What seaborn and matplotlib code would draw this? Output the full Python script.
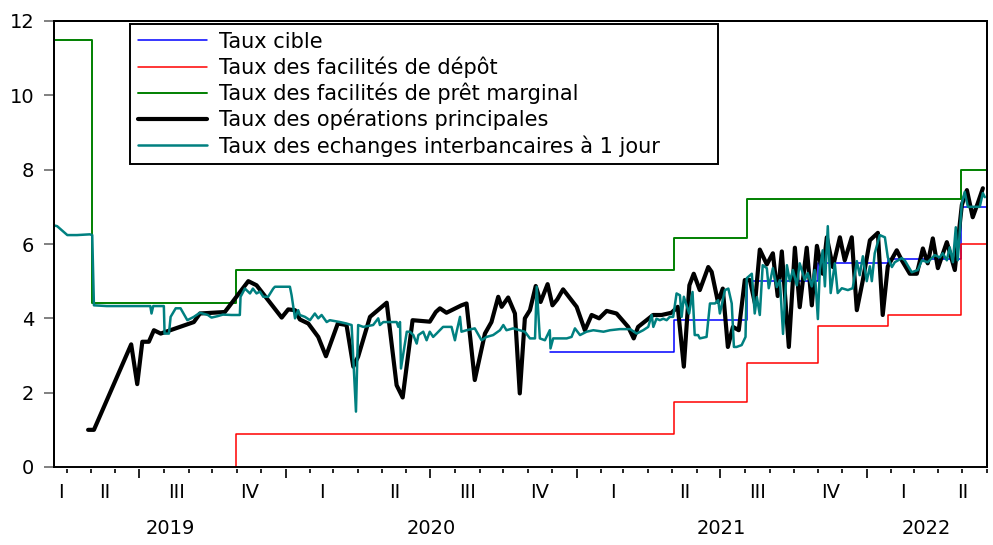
import numpy as np
import pandas as pd
import matplotlib
matplotlib.use("Agg")
import matplotlib.pyplot as plt
import matplotlib.dates as mdates
from matplotlib.lines import Line2D
from matplotlib.patches import Rectangle
from matplotlib.ticker import FixedLocator, NullFormatter
import seaborn as sns

# ---------------- data (time in months elapsed since 1 Jan 2019) ----------------
series_labels = [
    "Taux cible",
    "Taux des facilités de dépôt",
    "Taux des facilités de prêt marginal",
    "Taux des opérations principales",
    "Taux des echanges interbancaires à 1 jour",
]

t_cible = [22.91, 28.04, 31.05, 33.99, 36.88, 39.90, 40.97]
v_cible = [3.10, 3.95, 5.00, 5.50, 5.60, 7.00, 7.00]

t_depot = [9.94, 9.96, 28.04, 31.05, 33.99, 36.88, 39.90, 40.97]
v_depot = [0.00, 0.90, 1.75, 2.80, 3.80, 4.10, 6.00, 6.00]

t_pret = [2.42, 3.99, 9.94, 28.04, 31.05, 39.90, 40.97]
v_pret = [11.50, 4.40, 5.30, 6.15, 7.20, 8.00, 8.00]

t_ops = [3.83, 4.07, 5.61, 5.86, 6.07, 6.34, 6.55, 6.83, 8.20, 8.45,
         9.48, 10.45, 10.79, 11.83, 12.10, 12.38, 12.58, 12.93, 13.34, 13.66,
         14.15, 14.51, 14.79, 14.99, 15.48, 16.17, 16.58, 16.83, 17.24, 17.95,
         18.20, 18.37, 18.64, 19.26, 19.47, 19.81, 20.23, 20.50, 20.78, 20.92,
         21.19, 21.47, 21.67, 21.88, 22.09, 22.33, 22.53, 22.82, 23.02, 23.22,
         23.46, 24.02, 24.36, 24.64, 24.95, 25.26, 25.67, 26.15, 26.38, 26.56,
         26.91, 27.18, 27.53, 27.94, 28.20, 28.45, 28.68, 28.86, 29.11, 29.46,
         29.60, 29.86, 30.06, 30.27, 30.48, 30.72, 30.97, 31.18, 31.39, 31.59,
         31.88, 32.13, 32.33, 32.50, 32.79, 33.04, 33.24, 33.53, 33.74, 33.95,
         34.19, 34.36, 34.61, 34.90, 35.10, 35.39, 35.60, 35.85, 36.14, 36.47,
         36.67, 36.88, 37.25, 37.46, 37.79, 38.08, 38.33, 38.53, 38.74, 38.95,
         39.32, 39.65, 39.94, 40.15, 40.39, 40.60, 40.81]
v_ops = [1.00, 1.00, 3.30, 2.23, 3.37, 3.37, 3.68, 3.59, 3.90, 4.13,
         4.17, 5.00, 4.89, 4.02, 4.24, 4.22, 3.97, 3.86, 3.50, 2.98,
         3.86, 3.82, 2.70, 2.97, 4.04, 4.42, 2.20, 1.87, 3.95, 3.91,
         4.17, 4.27, 4.15, 4.35, 4.40, 2.34, 3.59, 3.90, 4.58, 4.31,
         4.56, 4.13, 1.98, 4.00, 4.22, 4.87, 4.44, 4.92, 4.35, 4.51,
         4.78, 4.31, 3.68, 4.09, 4.00, 4.20, 4.13, 3.77, 3.46, 3.77,
         3.95, 4.09, 4.09, 4.15, 4.31, 2.70, 4.89, 5.20, 4.76, 5.38,
         5.25, 4.44, 4.80, 3.23, 3.77, 3.68, 5.03, 5.03, 4.40, 5.85,
         5.45, 5.75, 4.60, 5.80, 3.23, 5.90, 4.30, 5.90, 4.35, 5.95,
         5.20, 6.18, 5.38, 6.18, 5.56, 6.18, 4.22, 5.03, 6.10, 6.30,
         4.09, 5.40, 5.83, 5.56, 5.20, 5.20, 5.88, 5.48, 6.15, 5.35,
         6.05, 5.30, 7.05, 7.45, 6.72, 7.10, 7.50]

t_inter = [2.42, 2.55, 2.97, 3.37, 3.90, 4.00, 4.07, 4.60, 6.40, 6.45,
           6.52, 6.96, 6.99, 7.17, 7.24, 7.45, 7.65, 7.93, 8.20, 8.45,
           8.78, 8.93, 9.19, 9.40, 9.76, 10.10, 10.13, 10.31, 10.52, 10.64,
           10.79, 10.93, 11.07, 11.27, 11.48, 11.55, 12.17, 12.24, 12.38, 12.51,
           12.58, 12.79, 13.00, 13.20, 13.34, 13.48, 13.69, 13.82, 14.24, 14.51,
           14.72, 14.90, 14.99, 15.20, 15.61, 15.82, 15.89, 16.03, 16.30, 16.58,
           16.65, 16.72, 16.76, 17.00, 17.13, 17.27, 17.41, 17.48, 17.68, 17.82,
           17.95, 18.09, 18.23, 18.50, 18.85, 18.99, 19.06, 19.20, 19.26, 19.47,
           19.81, 20.09, 20.30, 20.57, 20.85, 20.99, 21.12, 21.40, 21.67, 21.88,
           22.09, 22.30, 22.37, 22.50, 22.71, 22.91, 22.94, 23.05, 23.33, 23.61,
           23.81, 23.95, 24.16, 24.43, 24.71, 25.13, 25.40, 25.81, 26.23, 26.50,
           26.77, 26.98, 27.12, 27.19, 27.32, 27.46, 27.60, 27.74, 27.87, 28.01,
           28.15, 28.29, 28.36, 28.45, 28.67, 28.81, 28.90, 29.04, 29.11, 29.39,
           29.53, 29.74, 29.87, 29.94, 30.15, 30.29, 30.43, 30.52, 30.63, 30.84,
           31.00, 31.05, 31.26, 31.38, 31.47, 31.59, 31.71, 31.88, 31.96, 32.13,
           32.29, 32.42, 32.55, 32.71, 32.83, 32.96, 33.12, 33.24, 33.45, 33.57,
           33.74, 33.86, 33.99, 34.07, 34.19, 34.28, 34.40, 34.52, 34.69, 34.81,
           34.98, 35.23, 35.43, 35.60, 35.72, 35.85, 36.01, 36.14, 36.22, 36.34,
           36.55, 36.76, 36.88, 37.05, 37.17, 37.46, 37.58, 37.87, 38.12, 38.29,
           38.53, 38.82, 39.03, 39.15, 39.32, 39.44, 39.57, 39.69, 39.77, 39.94,
           40.06, 40.19, 40.39, 40.68, 40.81, 40.89]
v_inter = [6.50, 6.48, 6.24, 6.24, 6.26, 6.24, 4.35, 4.33, 4.33, 4.13,
           4.33, 4.33, 3.59, 3.59, 4.04, 4.27, 4.27, 3.95, 4.04, 4.15,
           4.09, 4.02, 4.06, 4.10, 4.09, 4.09, 4.58, 4.80, 4.67, 4.80,
           4.67, 4.72, 4.58, 4.58, 4.80, 4.85, 4.85, 4.62, 4.00, 4.22,
           4.09, 4.04, 3.95, 4.13, 4.00, 4.09, 3.90, 3.95, 3.90, 3.86,
           3.82, 1.49, 3.82, 3.77, 3.82, 4.00, 3.82, 3.90, 3.90, 3.90,
           3.77, 3.90, 2.65, 3.64, 3.64, 3.55, 3.32, 3.55, 3.64, 3.41,
           3.64, 3.50, 3.59, 3.77, 3.77, 3.41, 3.64, 4.04, 3.64, 3.68,
           3.73, 3.41, 3.50, 3.55, 3.68, 3.82, 3.68, 3.73, 3.68, 3.64,
           3.46, 3.46, 4.85, 3.46, 3.41, 3.68, 3.19, 3.46, 3.46, 3.46,
           3.50, 3.73, 3.55, 3.64, 3.68, 3.64, 3.68, 3.71, 3.71, 3.59,
           3.68, 3.77, 4.09, 3.77, 3.99, 3.95, 3.99, 3.95, 4.04, 4.04,
           4.67, 4.62, 4.04, 4.58, 4.13, 4.71, 3.55, 3.55, 3.46, 3.50,
           4.40, 4.40, 4.49, 4.13, 4.76, 4.80, 4.40, 3.23, 3.23, 3.28,
           3.50, 5.08, 5.20, 4.13, 4.57, 4.09, 5.43, 5.35, 4.81, 5.35,
           4.84, 5.03, 3.58, 5.43, 5.00, 5.30, 4.89, 5.48, 5.03, 5.22,
           4.86, 5.30, 3.98, 5.30, 5.83, 4.86, 6.48, 4.68, 5.48, 4.68,
           4.81, 4.76, 4.81, 5.54, 5.16, 5.67, 5.00, 5.40, 5.00, 5.75,
           6.24, 6.18, 5.64, 5.38, 5.51, 5.62, 5.56, 5.24, 5.30, 5.56,
           5.51, 5.70, 5.64, 5.75, 5.56, 5.91, 5.51, 6.45, 5.56, 7.10,
           7.40, 7.00, 7.00, 7.00, 7.37, 7.26]

quarter_labels = ["I", "II", "III", "IV"]
year_labels = ["2019", "2020", "2021", "2022"]

# ---------------- helpers ----------------
BASE = pd.Timestamp("2019-01-01")


def to_date(m):
    return BASE + pd.to_timedelta(np.asarray(m, dtype=float) * 30.4375, unit="D")


x_start, x_end = 2.42, 40.98

sns.set_theme(style="white")
plt.rcParams["font.family"] = ["DejaVu Sans"]
plt.rcParams["text.color"] = "black"
FS = 14
LFS = 15

fig = plt.figure(figsize=(9.93, 5.45), dpi=100)
ax = fig.add_axes([54 / 993, 78 / 545, 933 / 993, 446 / 545])

colors = ["#0000ff", "#ff0000", "#008000", "#000000", "#008080"]
widths = [1.1, 1.1, 1.4, 3.0, 1.8]
datasets = [
    (t_cible, v_cible, "steps-post"),
    (t_depot, v_depot, "steps-post"),
    (t_pret, v_pret, "steps-post"),
    (t_ops, v_ops, "default"),
    (t_inter, v_inter, "default"),
]
for (t, v, ds), c, w in zip(datasets, colors, widths):
    df = pd.DataFrame({"date": to_date(t), "value": v})
    sns.lineplot(data=df, x="date", y="value", ax=ax, color=c, lw=w,
                 drawstyle=ds, estimator=None, sort=False, legend=False)

ax.set_xlim(to_date(x_start), to_date(x_end))
ax.set_ylim(0, 12)
ax.set_xlabel("")
ax.set_ylabel("")

# y axis
ax.set_yticks(range(0, 13, 2))
ax.tick_params(axis="y", which="major", left=True, length=7.2, width=1.4,
               color="#808080", pad=7, labelsize=FS, labelcolor="black",
               direction="out")

# x axis ticks: monthly minor, half-yearly major
month_starts = pd.date_range("2019-04-01", "2022-06-01", freq="MS")
major = [d for d in month_starts if d.month in (1, 7)]
minor = [d for d in month_starts if d.month not in (1, 7)]
ax.xaxis.set_major_locator(FixedLocator(mdates.date2num(major)))
ax.xaxis.set_minor_locator(FixedLocator(mdates.date2num(minor)))
ax.xaxis.set_major_formatter(NullFormatter())
ax.xaxis.set_minor_formatter(NullFormatter())
ax.tick_params(axis="x", which="major", bottom=True, length=6.5, width=1.2,
               color="black", direction="out")
ax.tick_params(axis="x", which="minor", bottom=True, length=2.9, width=1.2,
               color="black", direction="out")

for s in ["top", "right", "left"]:
    ax.spines[s].set_color("black")
    ax.spines[s].set_linewidth(1.4)
ax.spines["bottom"].set_position(("outward", 1.5))
ax.spines["bottom"].set_visible(False)
ax.add_patch(Rectangle((0, 0), 1, 1, transform=ax.transAxes, fill=False,
                       edgecolor="black", lw=1.4, clip_on=False, zorder=5))

# quarter labels (centred on visible part of each quarter)
lo, hi = x_start, x_end
for q in range(0, 14):
    q0, q1 = q * 3, q * 3 + 3
    a, b = max(q0, lo), min(q1, hi)
    if b <= a:
        continue
    ax.annotate(quarter_labels[q % 4], xy=(mdates.date2num(to_date((a + b) / 2)), 0),
                xycoords=("data", "axes fraction"), xytext=(0, -18),
                textcoords="offset points", ha="center", va="center",
                fontsize=FS, color="black")
for i, yl in enumerate(year_labels):
    a, b = max(i * 12, lo), min(i * 12 + 12, hi)
    ax.annotate(yl, xy=(mdates.date2num(to_date((a + b) / 2)), 0),
                xycoords=("data", "axes fraction"), xytext=(0, -44),
                textcoords="offset points", ha="center", va="center",
                fontsize=FS, color="black")

# legend
handles = [Line2D([], [], color=c, lw=w) for c, w in zip(colors, widths)]
leg = ax.legend(handles, series_labels, loc="upper left",
                bbox_to_anchor=(130 / 993, (545 - 165) / 545, 588 / 993, 141 / 545),
                bbox_transform=fig.transFigure, mode="expand", borderaxespad=0,
                fontsize=LFS, handlelength=3.35, handletextpad=0.55,
                labelspacing=0.23, borderpad=0.36, fancybox=False,
                framealpha=1, edgecolor="black")
leg.get_frame().set_linewidth(1.4)
for txt in leg.get_texts():
    txt.set_color("black")

fig.savefig("out.png", dpi=100)
